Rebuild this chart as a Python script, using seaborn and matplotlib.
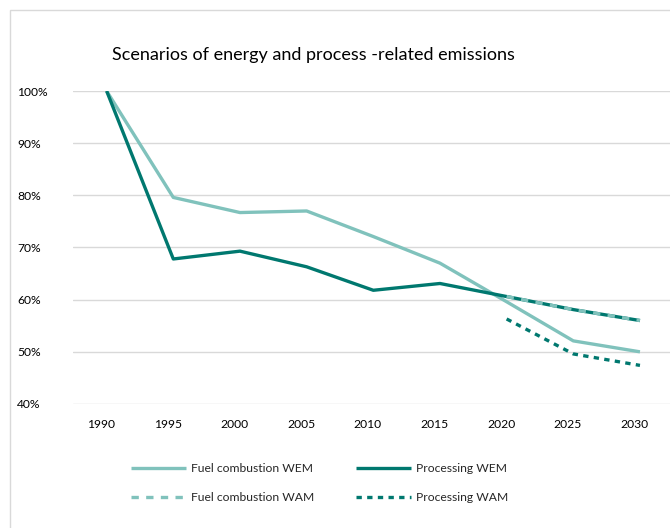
import matplotlib
matplotlib.use("Agg")
import matplotlib.pyplot as plt
from matplotlib.patches import Rectangle
import matplotlib.transforms as mtransforms
import seaborn as sns
import pandas as pd
import numpy as np

years = [1990, 1995, 2000, 2005, 2010, 2015, 2020, 2025, 2030]
fuel_wem = [100, 79.6, 76.7, 77.0, 72.1, 67.0, 59.6, 52.1, 50.0]
proc_wem = [100, 67.8, 69.3, 66.3, 61.8, 63.1, 60.6, 58.1, 56.0]
fuel_wam = [None, None, None, None, None, None, 60.6, 58.1, 56.0]
proc_wam = [None, None, None, None, None, None, 56.3, 49.6, 47.4]
y_ticks = [40, 50, 60, 70, 80, 90, 100]

light = "#80C2BC"
dark = "#00786F"

sns.set_theme(style="white")
plt.rcParams['font.family'] = ['Lato', 'DejaVu Sans']

W, H = 670, 528
fig = plt.figure(figsize=(W / 100, H / 100), dpi=100)
fig.patch.set_facecolor("white")
fig.patches.append(Rectangle((10 / W, -0.1), 1.2, 1 - 10 / H + 0.1, transform=fig.transFigure,
                             fill=False, edgecolor="#D9D9D9", linewidth=1.0))

left, right = 73.3, 673.3
top, bottom = 91, 404
ax = fig.add_axes([left / W, 1 - bottom / H, (right - left) / W, (bottom - top) / H])

idx = list(range(len(years)))
series = [
    ("Fuel combustion WEM", fuel_wem, light, "-"),
    ("Processing WEM", proc_wem, dark, "-"),
    ("Fuel combustion WAM", fuel_wam, light, (0, (2.2, 2.2))),
    ("Processing WAM", proc_wam, dark, (0, (1.6, 1.6))),
]
handles = {}
for name, vals, col, ls in series:
    df = pd.DataFrame({"x": idx, "y": [np.nan if v is None else v for v in vals]}).dropna()
    sns.lineplot(data=df, x="x", y="y", ax=ax, color=col, linewidth=2.4, linestyle=ls,
                 label=name, legend=False, solid_capstyle="butt", dash_capstyle="butt")
    handles[name] = ax.lines[-1]

ax.set_xlim(-0.5, len(years) - 0.5)
ax.set_ylim(40, 100)
ax.set_xticks(idx)
ax.set_xticklabels([str(y) for y in years])
ax.set_yticks(y_ticks)
ax.set_yticklabels([f"{t}%" for t in y_ticks])
ax.tick_params(axis="both", length=0, labelsize=8.7, colors="#000000")
ax.tick_params(axis="x", pad=11)
ax.tick_params(axis="y", pad=40.5)
for lab in ax.get_yticklabels():
    lab.set_horizontalalignment("left")
shift = mtransforms.ScaledTranslation(-5.5 / 100, 0, fig.dpi_scale_trans)
for lab in ax.get_xticklabels():
    lab.set_transform(lab.get_transform() + shift)
ax.set_xlabel("")
ax.set_ylabel("")
ax.grid(axis="y", color="#D9D9D9", linewidth=1.0)
ax.grid(axis="x", visible=False)
ax.set_axisbelow(True)
for s in ax.spines.values():
    s.set_visible(False)

fig.text(313 / W, 1 - 55 / H, "Scenarios of energy and process -related emissions",
         ha="center", va="center", fontsize=13, color="#000000")

order = ["Fuel combustion WEM", "Fuel combustion WAM", "Processing WEM", "Processing WAM"]
leg = fig.legend([handles[n] for n in order], order, ncol=2, frameon=False,
                 loc="upper left", bbox_to_anchor=(120 / W, 1 - 452 / H),
                 fontsize=8.7, handlelength=4.6, handletextpad=0.4,
                 columnspacing=3.4, labelspacing=1.5)

fig.savefig("out.png", dpi=100)
